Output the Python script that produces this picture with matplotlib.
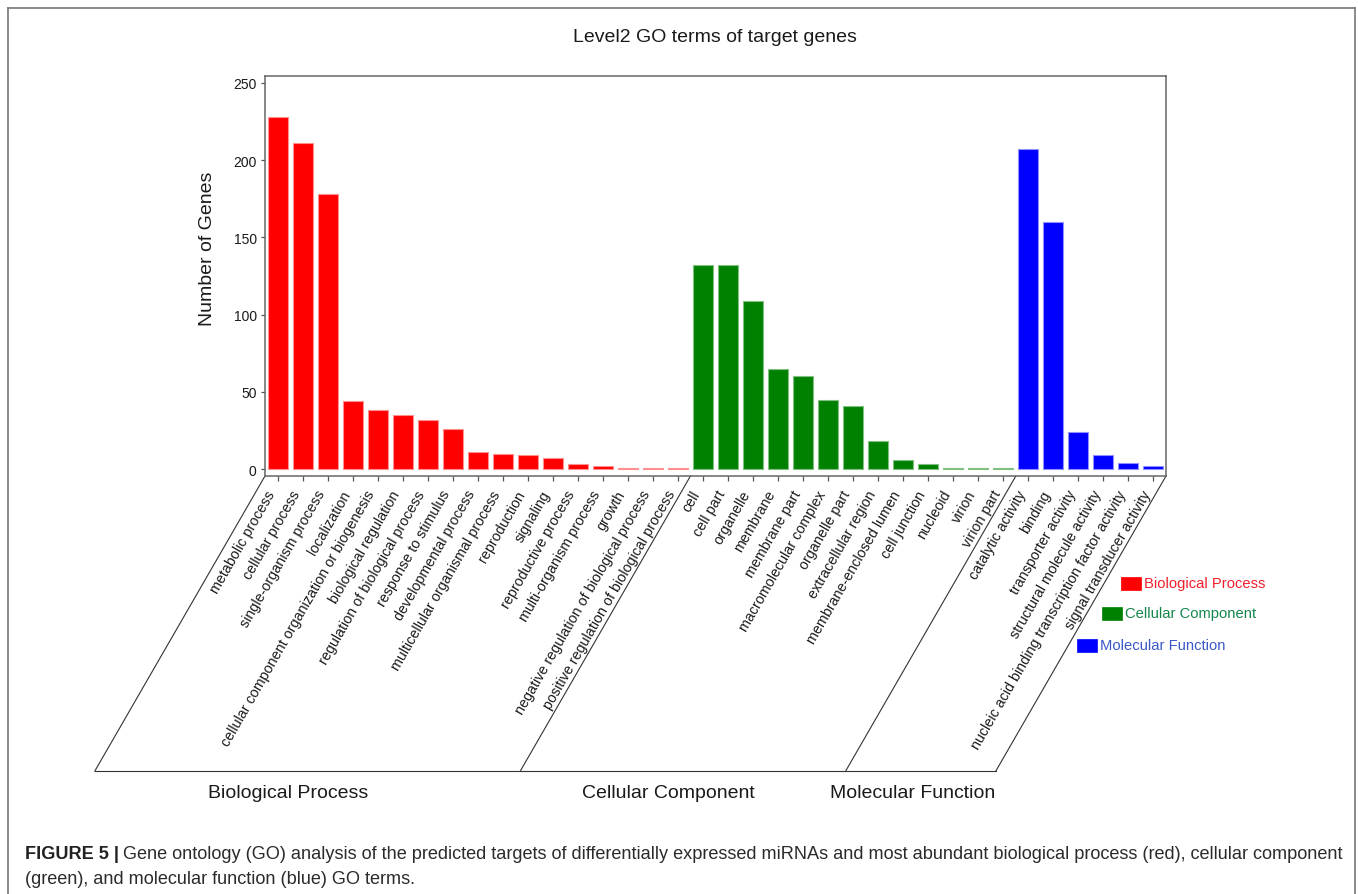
import matplotlib
matplotlib.use('Agg')
import matplotlib.pyplot as plt
from matplotlib.patches import Rectangle
from matplotlib.lines import Line2D

plt.rcParams['font.family'] = ['Liberation Sans', 'DejaVu Sans']

# GO level-2 terms and gene counts
bp_terms = ['metabolic process', 'cellular process', 'single-organism process',
            'localization', 'cellular component organization or biogenesis',
            'biological regulation', 'regulation of biological process',
            'response to stimulus', 'developmental process',
            'multicellular organismal process', 'reproduction', 'signaling',
            'reproductive process', 'multi-organism process', 'growth',
            'negative regulation of biological process',
            'positive regulation of biological process']
bp_counts = [228, 211, 178, 44, 38, 35, 32, 26, 11, 10, 9, 7, 3, 2, 1, 1, 1]

cc_terms = ['cell', 'cell part', 'organelle', 'membrane', 'membrane part',
            'macromolecular complex', 'organelle part', 'extracellular region',
            'membrane-enclosed lumen', 'cell junction', 'nucleoid', 'virion',
            'virion part']
cc_counts = [132, 132, 109, 65, 60, 45, 41, 18, 6, 3, 1, 1, 1]

mf_terms = ['catalytic activity', 'binding', 'transporter activity',
            'structural molecule activity',
            'nucleic acid binding transcription factor activity',
            'signal transducer activity']
mf_counts = [207, 160, 24, 9, 4, 2]

groups = ['Biological Process', 'Cellular Component', 'Molecular Function']
colors = ['#ff0000', '#008000', '#0000ff']
edge_colors = ['#ff9090', '#80c080', '#9090ff']
legend_text_colors = ['#f0202c', '#12864a', '#3a58c8']
yticks = [0, 50, 100, 150, 200, 250]

W, H = 1358, 895
fig = plt.figure(figsize=(W / 100, H / 100), dpi=100)


def fx(x):
    return x / W


def fy(y):
    return 1 - y / H


ax = fig.add_axes([fx(265), fy(477), (1166 - 265) / W, (477 - 77) / H])

all_terms = bp_terms + cc_terms + mf_terms
pos = 0
for terms, counts, c, ec in zip([bp_terms, cc_terms, mf_terms],
                                [bp_counts, cc_counts, mf_counts],
                                colors, edge_colors):
    xs = list(range(pos, pos + len(terms)))
    ax.bar(xs, counts, width=0.8, color=c, edgecolor=ec, linewidth=0.8)
    pos += len(terms)

ax.set_xlim(-0.5, len(all_terms) - 0.5)
ax.set_ylim(-4.5, 254.5)
ax.set_yticks(yticks)
ax.set_xticks(range(len(all_terms)))
ax.set_xticklabels([])
ax.tick_params(axis='y', labelsize=10, labelcolor='#1a1a1a', length=3,
               width=0.9, color='#555555', pad=3)
ax.tick_params(axis='x', length=3.5, width=0.9, color='#555555')
for s in ax.spines.values():
    s.set_color('#666666')
    s.set_linewidth(1.1)

# slanted term labels
for i, term in enumerate(all_terms):
    ax.annotate(term, xy=(i, 0), xycoords=('data', 'axes fraction'),
                xytext=(-4.2, -10.8), textcoords='offset points',
                rotation=60, rotation_mode='anchor', ha='right', va='center',
                fontsize=10.3, color='#1a1a1a', annotation_clip=False)

# slanted group frame under the axis
bounds = [-0.5]
for n in [len(bp_terms), len(cc_terms), len(mf_terms)]:
    bounds.append(bounds[-1] + n)
shift = 170 / 25.0
ybot = -4.5 - 295 / 1.544
for b in bounds:
    ax.plot([b, b - shift], [-4.5, ybot], color='#333333', lw=0.8,
            clip_on=False)
ax.plot([bounds[0] - shift, bounds[-1] - shift], [ybot, ybot],
        color='#333333', lw=0.8, clip_on=False)

# group names
for g, x in zip(groups, [288, 668, 913]):
    fig.text(fx(x), fy(794), g, ha='center', va='center', fontsize=14,
             color='#1a1a1a')

fig.text(fx(207), fy(249), 'Number of Genes', rotation=90, ha='center',
         va='center', fontsize=14, color='#1a1a1a')
fig.text(fx(715), fy(37), 'Level2 GO terms of target genes', ha='center',
         va='center', fontsize=14, color='#1a1a1a')

# legend
for g, c, tc, (rx, ry) in zip(groups, colors, legend_text_colors,
                               [(1121, 584), (1102, 614.5), (1077, 646)]):
    fig.patches.append(Rectangle((fx(rx), fy(ry + 6.5)), 20 / W, 13 / H,
                                 transform=fig.transFigure, facecolor=c,
                                 edgecolor=c, lw=0.5))
    fig.text(fx(rx + 23), fy(ry), g, ha='left', va='center', fontsize=10.6,
             color=tc)

# outer frame
for xs, ys in [([8, 1355], [9, 9]), ([8, 8], [9, 900]),
               ([1355, 1355], [9, 900])]:
    fig.add_artist(Line2D([fx(v) for v in xs], [fy(v) for v in ys],
                          transform=fig.transFigure, color='#777777',
                          lw=1.2))

# caption
bold = fig.text(fx(25), fy(855), 'FIGURE 5 |', ha='left', va='center',
                fontsize=13.1, fontweight='bold', color='#222222')
ax.annotate('Gene ontology (GO) analysis of the predicted targets of '
            'differentially expressed miRNAs and most abundant biological '
            'process (red), cellular component',
            xy=(1, 0), xycoords=bold, xytext=(3, 0),
            textcoords='offset points', ha='left', va='bottom',
            fontsize=13.1, color='#2b2b2b', annotation_clip=False)
fig.text(fx(25), fy(880), '(green), and molecular function (blue) GO terms.',
         ha='left', va='center', fontsize=13.1, color='#2b2b2b')

fig.savefig('out.png', dpi=100)
